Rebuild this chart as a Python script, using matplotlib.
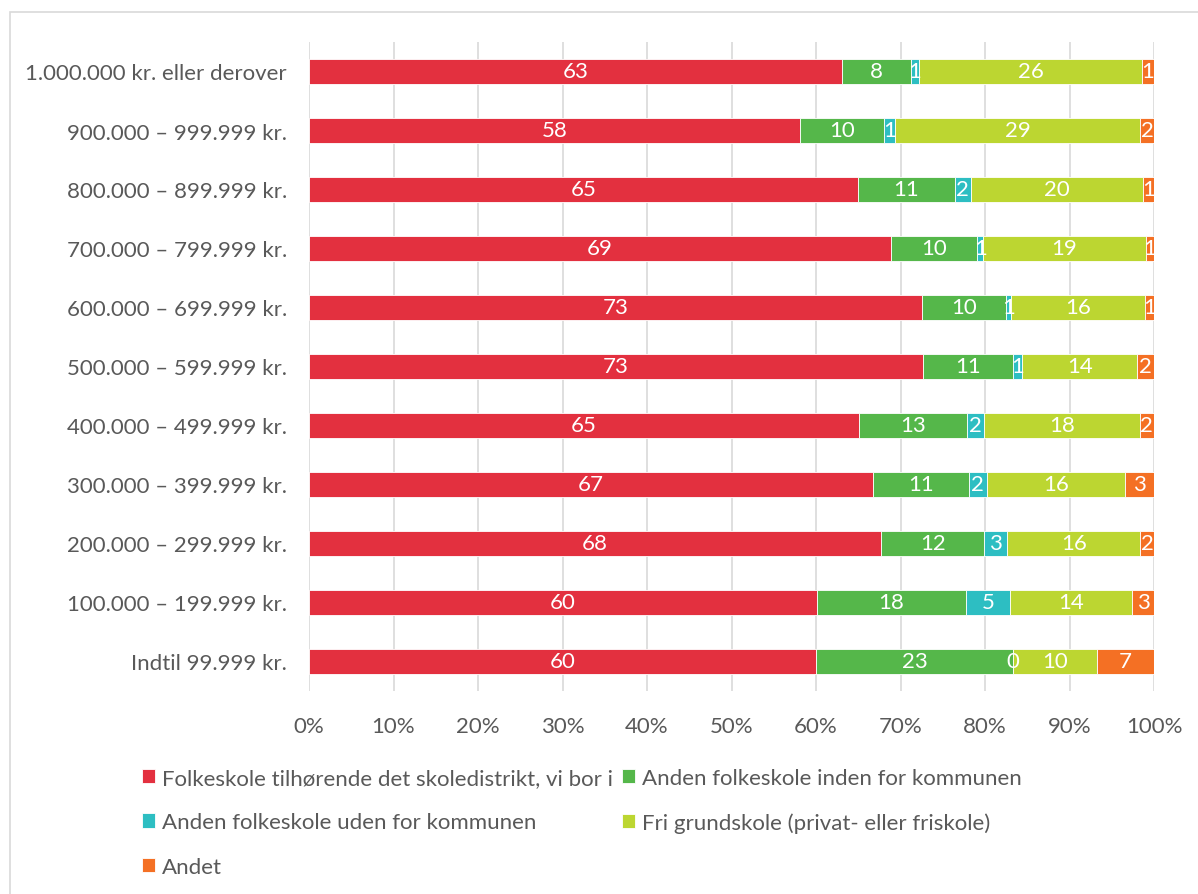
import matplotlib.pyplot as plt
import numpy as np
from matplotlib.patches import Rectangle

categories = ['Indtil 99.999 kr.', '100.000 – 199.999 kr.', '200.000 – 299.999 kr.',
              '300.000 – 399.999 kr.', '400.000 – 499.999 kr.', '500.000 – 599.999 kr.',
              '600.000 – 699.999 kr.', '700.000 – 799.999 kr.', '800.000 – 899.999 kr.',
              '900.000 – 999.999 kr.', '1.000.000 kr. eller derover']

folkeskole_distrikt = [60.0, 60.1, 67.7, 66.7, 65.1, 72.7, 72.6, 68.9, 65.0, 58.1, 63.1]
anden_inden = [23.3, 17.7, 12.2, 11.4, 12.8, 10.6, 9.9, 10.2, 11.4, 9.9, 8.1]
anden_uden = [0.0, 5.2, 2.7, 2.1, 2.0, 1.1, 0.6, 0.7, 1.9, 1.4, 1.0]
fri_grundskole = [10.0, 14.4, 15.8, 16.4, 18.4, 13.6, 15.8, 19.2, 20.4, 29.0, 26.4]
andet = [6.7, 2.6, 1.6, 3.4, 1.7, 2.0, 1.1, 1.0, 1.3, 1.6, 1.4]

series_names = ['Folkeskole tilhørende det skoledistrikt, vi bor i',
                'Anden folkeskole inden for kommunen',
                'Anden folkeskole uden for kommunen',
                'Fri grundskole (privat- eller friskole)',
                'Andet']
colors = ['#E3303F', '#55B74A', '#2DBEC2', '#BCD631', '#F47024']
xticks = [0, 10, 20, 30, 40, 50, 60, 70, 80, 90, 100]

plt.rcParams['font.family'] = ['Lato', 'DejaVu Sans']
grey = '#595959'
fs = 16

fig = plt.figure(figsize=(11.98, 8.95), dpi=100)
ax = fig.add_axes([309/1198, 1-692/895, (1154-309)/1198, (692-43)/895])

# chart area border
fig.patches.append(Rectangle((10/1198, -0.05), 1.1, 1-13/895+0.05, transform=fig.transFigure,
                             fill=False, edgecolor='#D9D9D9', linewidth=1.2))

y = np.arange(len(categories))
left = np.zeros(len(categories))
handles = []
for vals, name, col in zip([folkeskole_distrikt, anden_inden, anden_uden, fri_grundskole, andet],
                           series_names, colors):
    bars = ax.barh(y, vals, left=left, height=0.41, color=col, edgecolor='white',
                   linewidth=0.6, label=name, zorder=3)
    ax.bar_label(bars, labels=['{:.0f}'.format(v) for v in vals], label_type='center',
                 color='white', fontsize=fs, zorder=6)
    handles.append(bars)
    left = left + np.array(vals)

ax.set_xlim(0, 100)
ax.set_ylim(-0.5, len(categories) - 0.5)
ax.set_yticks(y)
ax.set_yticklabels(categories, fontsize=fs, color=grey)
ax.set_xticks(xticks)
ax.set_xticklabels([f'{v}%' for v in xticks], fontsize=fs, color=grey)
ax.tick_params(length=0)
ax.tick_params(axis='x', pad=18)
ax.tick_params(axis='y', pad=16)
ax.grid(axis='x', color='#D9D9D9', linewidth=1.2, zorder=0)
for s in ax.spines.values():
    s.set_visible(False)

order = [0, 2, 4, 1, 3]
fig.legend([handles[i] for i in order], [series_names[i] for i in order],
           loc='upper left', bbox_to_anchor=(133/1198, 1-760/895), ncol=2, frameon=False,
           fontsize=fs, labelcolor=grey, handlelength=0.6, handleheight=0.6,
           handletextpad=0.3, labelspacing=1.1, columnspacing=0.4, borderaxespad=0)

fig.savefig('out.png', dpi=100)
